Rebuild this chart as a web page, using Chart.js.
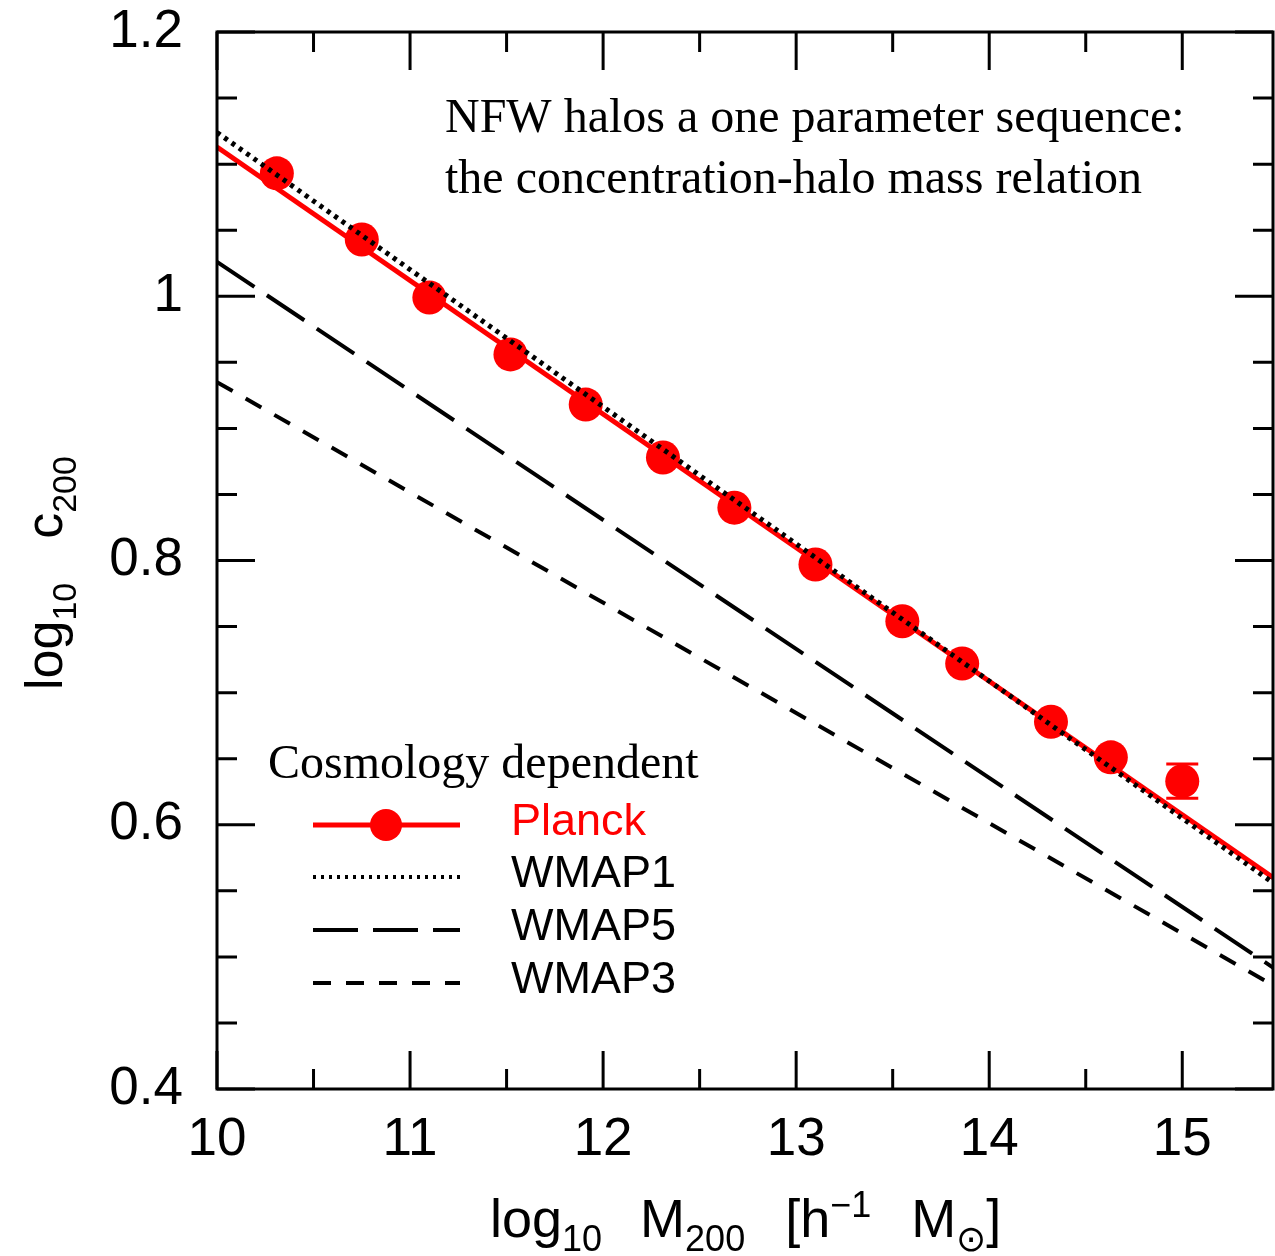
<!DOCTYPE html>
<html>
<head>
<meta charset="utf-8">
<script src="https://cdn.jsdelivr.net/npm/chart.js@4/dist/chart.umd.min.js"></script>
<style>
  html, body { margin: 0; padding: 0; background: #fff; }
  canvas { display: block; }
</style>
</head>
<body>
<canvas id="cmChart" width="1275" height="1256"></canvas>
<script>
// tick values
const xMajorTicks = [10, 11, 12, 13, 14, 15];
const xMinorTicks = [10.5, 11.5, 12.5, 13.5, 14.5];
const yMajorTicks = [0.4, 0.6, 0.8, 1, 1.2];
const yMinorTicks = [0.45, 0.5, 0.55, 0.65, 0.7, 0.75, 0.85, 0.9, 0.95, 1.05, 1.1, 1.15];

// Planck simulation points (log10 M200, log10 c200)
const planckMass = [10.31, 10.75, 11.10, 11.52, 11.91, 12.31, 12.68, 13.10, 13.55, 13.86, 14.32, 14.63, 15.00];
const planckConc = [1.093, 1.043, 0.999, 0.956, 0.918, 0.878, 0.840, 0.797, 0.754, 0.722, 0.678, 0.651, 0.633];
const planckErr  = [0, 0, 0, 0, 0, 0, 0, 0, 0, 0, 0, 0, 0.013];

// power-law fits, evaluated at the ends of the mass range
const fitMass   = [10, 15.5];
const planckFit = [1.113, 0.557];
const wmap1Fit  = [1.124, 0.553];
const wmap5Fit  = [1.026, 0.489];
const wmap3Fit  = [0.935, 0.476];

const RED = '#ff0000';
const SANS = '"Liberation Sans", Arial, sans-serif';
const SERIF = '"Liberation Serif", "Times New Roman", serif';

const toXY = (xs, ys) => xs.map((x, i) => ({ x: x, y: ys[i] }));

function drawRich(ctx, segs, x, y) {
    let cx = x;
    segs.forEach(s => {
        cx += s.gap || 0;
        ctx.font = s.size + 'px ' + SANS;
        ctx.fillText(s.t, cx, y + (s.dy || 0));
        cx += ctx.measureText(s.t).width;
    });
}

const framePlugin = {
    id: 'frame',
    afterDraw(chart) {
        const ctx = chart.ctx;
        const xs = chart.scales.x, ys = chart.scales.y;
        const a = chart.chartArea;
        ctx.save();

        // error bar on the last Planck point
        ctx.strokeStyle = RED;
        ctx.lineWidth = 3;
        planckErr.forEach((e, i) => {
            if (!e) return;
            const px = xs.getPixelForValue(planckMass[i]);
            const y1 = ys.getPixelForValue(planckConc[i] + e);
            const y2 = ys.getPixelForValue(planckConc[i] - e);
            ctx.beginPath();
            ctx.moveTo(px, y1); ctx.lineTo(px, y2);
            ctx.moveTo(px - 16, y1); ctx.lineTo(px + 16, y1);
            ctx.moveTo(px - 16, y2); ctx.lineTo(px + 16, y2);
            ctx.stroke();
        });

        // box and inward ticks on all sides
        ctx.strokeStyle = '#000';
        ctx.lineWidth = 3;
        ctx.strokeRect(a.left, a.top, a.right - a.left, a.bottom - a.top);
        ctx.beginPath();
        const xt = (v, len) => {
            const p = xs.getPixelForValue(v);
            ctx.moveTo(p, a.bottom); ctx.lineTo(p, a.bottom - len);
            ctx.moveTo(p, a.top); ctx.lineTo(p, a.top + len);
        };
        const yt = (v, len) => {
            const p = ys.getPixelForValue(v);
            ctx.moveTo(a.left, p); ctx.lineTo(a.left + len, p);
            ctx.moveTo(a.right, p); ctx.lineTo(a.right - len, p);
        };
        xMajorTicks.forEach(v => xt(v, 38));
        xMinorTicks.forEach(v => xt(v, 20));
        yMajorTicks.forEach(v => yt(v, 38));
        yMinorTicks.forEach(v => yt(v, 20));
        ctx.stroke();

        // annotation
        ctx.fillStyle = '#000';
        ctx.textAlign = 'left';
        ctx.textBaseline = 'alphabetic';
        ctx.font = '48px ' + SERIF;
        ctx.fillText('NFW halos a one parameter sequence:', 445, 132);
        ctx.fillText('the concentration-halo mass relation', 445, 193);

        // legend
        ctx.fillText('Cosmology dependent', 268, 778);
        const rows = [
            { name: 'Planck', color: RED, width: 5, dash: [], marker: true, y: 825 },
            { name: 'WMAP1', color: '#000', width: 4, dash: [3, 5], y: 877 },
            { name: 'WMAP5', color: '#000', width: 4, dash: [45, 15], y: 930 },
            { name: 'WMAP3', color: '#000', width: 4, dash: [18, 15], y: 983 }
        ];
        rows.forEach(r => {
            ctx.strokeStyle = r.color;
            ctx.lineWidth = r.width;
            ctx.setLineDash(r.dash);
            ctx.beginPath();
            ctx.moveTo(313, r.y); ctx.lineTo(460, r.y);
            ctx.stroke();
            ctx.setLineDash([]);
            if (r.marker) {
                ctx.fillStyle = r.color;
                ctx.beginPath();
                ctx.arc(386, r.y, 16, 0, Math.PI * 2);
                ctx.fill();
            }
            ctx.fillStyle = r.color;
            ctx.font = '45px ' + SANS;
            ctx.fillText(r.name, 511, r.y + 10);
        });

        // axis titles
        ctx.fillStyle = '#000';
        drawRich(ctx, [
            { t: 'log', size: 54 },
            { t: '10', size: 36, dy: 14 },
            { t: 'M', size: 54, gap: 38 },
            { t: '200', size: 36, dy: 14 },
            { t: '[', size: 54, gap: 40 },
            { t: 'h', size: 54 },
            { t: '\u22121', size: 36, dy: -20 },
            { t: 'M', size: 54, gap: 40 },
            { t: '\u2299', size: 36, dy: 14 },
            { t: ']', size: 54 }
        ], 490, 1237);

        ctx.translate(62, 690);
        ctx.rotate(-Math.PI / 2);
        drawRich(ctx, [
            { t: 'log', size: 52 },
            { t: '10', size: 34, dy: 14 },
            { t: 'c', size: 52, gap: 44 },
            { t: '200', size: 34, dy: 14 }
        ], 0, 0);

        ctx.restore();
    }
};

const ctx = document.getElementById('cmChart').getContext('2d');
new Chart(ctx, {
    type: 'scatter',
    data: {
        datasets: [
            {
                label: 'WMAP1', type: 'line', data: toXY(fitMass, wmap1Fit),
                borderColor: '#000', borderWidth: 5, borderDash: [4, 5],
                pointRadius: 0, fill: false, order: 0
            },
            {
                label: 'Planck', data: toXY(planckMass, planckConc),
                backgroundColor: RED, borderColor: RED, borderWidth: 0,
                pointRadius: 17, order: 1
            },
            {
                label: 'Planck fit', type: 'line', data: toXY(fitMass, planckFit),
                borderColor: RED, borderWidth: 5, pointRadius: 0, fill: false, order: 2
            },
            {
                label: 'WMAP5', type: 'line', data: toXY(fitMass, wmap5Fit),
                borderColor: '#000', borderWidth: 4, borderDash: [45, 15],
                pointRadius: 0, fill: false, order: 3
            },
            {
                label: 'WMAP3', type: 'line', data: toXY(fitMass, wmap3Fit),
                borderColor: '#000', borderWidth: 4, borderDash: [18, 15],
                pointRadius: 0, fill: false, order: 4
            }
        ]
    },
    options: {
        responsive: false,
        animation: false,
        layout: { autoPadding: false, padding: { top: 32, right: 2, left: 0, bottom: 0 } },
        plugins: {
            legend: { display: false },
            tooltip: { enabled: false }
        },
        scales: {
            x: {
                type: 'linear',
                min: 10,
                max: 15.47,
                afterFit: s => { s.height = 167; s.paddingLeft = 0; s.paddingRight = 0; },
                afterBuildTicks: s => { s.ticks = xMajorTicks.map(v => ({ value: v })); },
                grid: { display: false, drawTicks: false },
                border: { display: false },
                ticks: {
                    color: '#000', padding: 20, maxRotation: 0, autoSkip: false,
                    font: { family: SANS, size: 53 },
                    callback: v => String(v)
                }
            },
            y: {
                type: 'linear',
                min: 0.4,
                max: 1.2,
                afterFit: s => { s.width = 217; s.paddingTop = 0; s.paddingBottom = 0; },
                afterBuildTicks: s => { s.ticks = yMajorTicks.map(v => ({ value: v })); },
                grid: { display: false, drawTicks: false },
                border: { display: false },
                ticks: {
                    color: '#000', padding: 34, autoSkip: false,
                    font: { family: SANS, size: 53 },
                    callback: v => String(v)
                }
            }
        }
    },
    plugins: [framePlugin]
});
</script>
</body>
</html>
